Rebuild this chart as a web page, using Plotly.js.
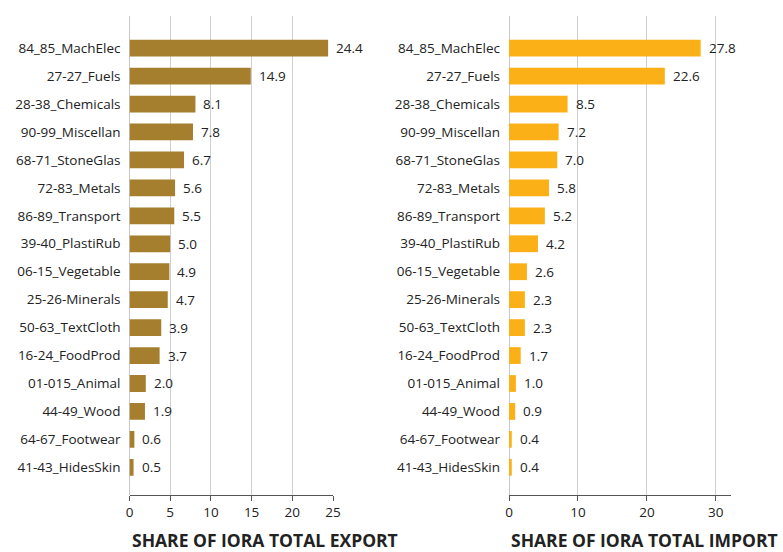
<!DOCTYPE html>
<html><head><meta charset="utf-8">
<script src="https://cdn.plot.ly/plotly-3.0.1.min.js"></script>
<style>html,body{margin:0;padding:0;background:#fff}#chart{width:783px;height:552px}</style>
</head><body><div id="chart"></div>
<script>
const exportCategories = ["84_85_MachElec","27-27_Fuels","28-38_Chemicals","90-99_Miscellan","68-71_StoneGlas","72-83_Metals","86-89_Transport","39-40_PlastiRub","06-15_Vegetable","25-26-Minerals","50-63_TextCloth","16-24_FoodProd","01-015_Animal","44-49_Wood","64-67_Footwear","41-43_HidesSkin"];
const exportValues = [24.4,14.9,8.1,7.8,6.7,5.6,5.5,5.0,4.9,4.7,3.9,3.7,2.0,1.9,0.6,0.5];
const importCategories = ["84_85_MachElec","27-27_Fuels","28-38_Chemicals","90-99_Miscellan","68-71_StoneGlas","72-83_Metals","86-89_Transport","39-40_PlastiRub","06-15_Vegetable","25-26-Minerals","50-63_TextCloth","16-24_FoodProd","01-015_Animal","44-49_Wood","64-67_Footwear","41-43_HidesSkin"];
const importValues = [27.8,22.6,8.5,7.2,7.0,5.8,5.2,4.2,2.6,2.3,2.3,1.7,1.0,0.9,0.4,0.4];
const exportTickVals = [0,5,10,15,20,25];
const importTickVals = [0,10,20,30];
const exportTitle = "SHARE OF IORA TOTAL EXPORT";
const importTitle = "SHARE OF IORA TOTAL IMPORT";

const FONT = "Open Sans, Noto Sans, sans-serif";
const txtCol = "#222222";

const traces = [
  {type:'bar', orientation:'h', x: exportValues, y: exportCategories, xaxis:'x', yaxis:'y',
   marker:{color:'#A67F2E'}, width:0.6, hoverinfo:'none'},
  {type:'bar', orientation:'h', x: importValues, y: importCategories, xaxis:'x2', yaxis:'y2',
   marker:{color:'#FBB017'}, width:0.6, hoverinfo:'none'}
];

const annotations = [];
exportValues.forEach((v,i)=>annotations.push({x:v, y:exportCategories[i], xref:'x', yref:'y', text:v.toFixed(1),
  showarrow:false, xanchor:'left', xshift:6, font:{family:FONT,size:13.5,color:txtCol}}));
importValues.forEach((v,i)=>annotations.push({x:v, y:importCategories[i], xref:'x2', yref:'y2', text:v.toFixed(1),
  showarrow:false, xanchor:'left', xshift:6, font:{family:FONT,size:13.5,color:txtCol}}));
annotations.push({x:0, xref:'x', xanchor:'left', y:0, yref:'paper', yanchor:'bottom', yshift:-2, text:'<b>'+exportTitle+'</b>', showarrow:false,
  font:{family:FONT,size:17.5,color:'#222'}});
annotations.push({x:0, xref:'x2', xanchor:'left', y:0, yref:'paper', yanchor:'bottom', yshift:-2, text:'<b>'+importTitle+'</b>', showarrow:false,
  font:{family:FONT,size:17.5,color:'#222'}});

const yDom = [57/552, 536/552];
const yCommon = {type:'category', range:[15.99,-1.15], autorange:false, showgrid:false, zeroline:false,
  showline:false, ticks:'', ticklabelstandoff:8, tickfont:{family:FONT,size:13.5,color:txtCol}, domain:yDom};
const xCommon = {showgrid:true, gridcolor:'#d0d0d0', gridwidth:1, zeroline:true, zerolinecolor:'#c8c8c8', zerolinewidth:1,
  showline:true, linecolor:'#555', linewidth:1, ticks:'outside', ticklen:5, tickcolor:'#555',
  tickfont:{family:FONT,size:13.5,color:txtCol}, fixedrange:true};

const layout = {
  width:783, height:552, margin:{l:0,r:0,t:0,b:0}, paper_bgcolor:'#fff', plot_bgcolor:'#fff',
  showlegend:false, font:{family:FONT,color:txtCol},
  xaxis: Object.assign({}, xCommon, {domain:[129.5/783, 333/783], range:[0,25], tickvals:exportTickVals, anchor:'y'}),
  yaxis: Object.assign({}, yCommon, {categoryarray:exportCategories, categoryorder:'array', anchor:'x'}),
  xaxis2: Object.assign({}, xCommon, {domain:[509/783, 731/783], range:[0,32.2], tickvals:importTickVals, anchor:'y2'}),
  yaxis2: Object.assign({}, yCommon, {categoryarray:importCategories, categoryorder:'array', anchor:'x2'}),
  annotations: annotations
};
Plotly.newPlot('chart', traces, layout, {displayModeBar:false, staticPlot:true});
</script></body></html>
